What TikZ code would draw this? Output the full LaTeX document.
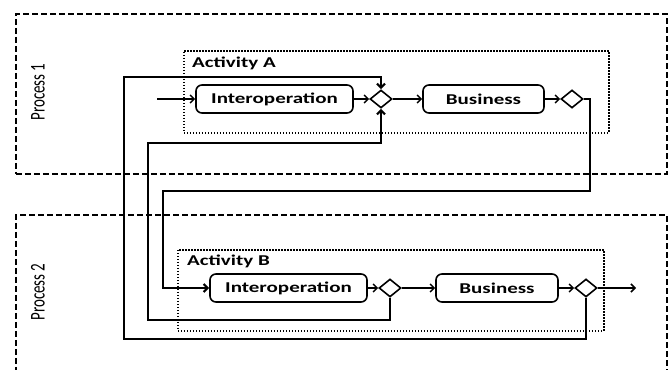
\documentclass[tikz,border=0pt]{standalone}
\usepackage{fontspec}
\usepackage{graphicx}
\setmainfont{Carlito}
\newfontfamily\wfont[FakeStretch=1.4]{Carlito}
\usetikzlibrary{shapes.geometric,arrows.meta}
\begin{document}
\begin{tikzpicture}[x=1pt,y=-1pt,
  procbox/.style={draw,line width=1.6pt,dash pattern=on 6pt off 3pt,inner sep=0pt,anchor=north west},
  actbox/.style={draw,line width=1.6pt,dash pattern=on 1.5pt off 1.5pt,inner sep=0pt,anchor=north west},
  task/.style={draw,line width=1.6pt,rounded corners=6pt,minimum height=28pt,inner sep=0pt,font=\wfont\fontsize{15}{18}\bfseries\selectfont},
  gate/.style={draw,diamond,line width=1.6pt,minimum width=22pt,minimum height=18pt,inner sep=0pt},
  flow/.style={line width=1.5pt,-{Straight Barb[length=4pt,width=8pt]}},
  loopline/.style={line width=2.2pt,-{Straight Barb[length=4pt,width=8pt]}},
  lbl/.style={anchor=base west,inner sep=0pt,font=\wfont\fontsize{15}{18}\bfseries\selectfont},
  plbl/.style={rotate=90,inner sep=0pt,font=\fontsize{15}{18}\selectfont}
]
\useasboundingbox (0,0) rectangle (671,369);
\begin{scope}
\clip (0,0) rectangle (671,369);
\node[procbox,minimum width=651pt,minimum height=160pt] (P1) at (15,13) {};
\node[procbox,minimum width=651pt,minimum height=175pt] (P2) at (15,214) {};
\end{scope}
\node[plbl] (P1l) at (38,92) {\scalebox{1}[1.4]{Process 1}};
\node[plbl] (P2l) at (38,292) {\scalebox{1}[1.4]{Process 2}};

\node[actbox,minimum width=425pt,minimum height=82pt] (AA) at (183,50) {};
\node[actbox,minimum width=426pt,minimum height=81pt] (AB) at (177,249) {};
\node[lbl] (AAl) at (192,67) {Activity A};
\node[lbl] (ABl) at (187,265) {Activity B};

\node[task,minimum width=157pt] (IA) at (274.5,99) {Interoperation};
\node[task,minimum width=121pt] (BA) at (483.5,99) {Business};
\node[gate] (GA1) at (381,99) {};
\node[gate] (GA2) at (572,99) {};

\node[task,minimum width=157pt] (IB) at (288.5,288) {Interoperation};
\node[task,minimum width=122pt] (BB) at (497,288) {Business};
\node[gate] (GB1) at (390,288) {};
\node[gate] (GB2) at (586,288) {};

\coordinate (in) at (157,99);
\coordinate (out) at (636,288);

\draw[flow] (in) -- (IA.west);
\draw[flow] (IA.east) -- (GA1.west);
\draw[flow] (GA1.east) -- (BA.west);
\draw[flow] (BA.east) -- (GA2.west);

\draw[flow] (IB.east) -- (GB1.west);
\draw[flow] (GB1.east) -- (BB.west);
\draw[flow] (BB.east) -- (GB2.west);
\draw[flow] (GB2.east) -- (out);

\draw[loopline] (GA2.east) -| (590,191) -| (163,288) -- (IB.west);
\draw[loopline] (GB2.south) |- (124,339) |- (381,77) -- (GA1.north);
\draw[loopline] (GB1.south) |- (148,320) |- (381,143) -- (GA1.south);
\end{tikzpicture}
\end{document}
